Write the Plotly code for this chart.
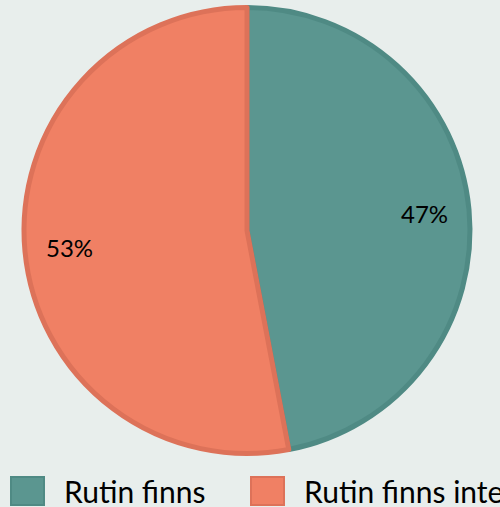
import math
import plotly.graph_objects as go

categories = ["Rutin finns", "Rutin finns inte"]
values = [47, 53]
fill_colors = ["#5B9690", "#F08064"]
line_colors = ["#4F8A84", "#DD7259"]
bg = "#E8EEEC"

W, H = 500, 507
cx, cy, r = 247, 230.5, 223  # pixels

fig = go.Figure()
fig.add_trace(go.Pie(
    labels=categories,
    values=values,
    sort=False,
    direction="clockwise",
    rotation=0,
    textinfo="none",
    hoverinfo="label+percent",
    marker=dict(colors=fill_colors, line=dict(color=line_colors, width=5)),
    domain=dict(x=[(cx - r) / W, (cx + r) / W], y=[1 - (cy + r) / H, 1 - (cy - r) / H]),
    showlegend=False,
))

# percentage labels at 0.8 radius on mid-angle of each slice
total = sum(values)
cum = 0
for v in values:
    mid = (cum + v / 2) / total * 2 * math.pi
    cum += v
    px = cx + 0.8 * r * math.sin(mid)
    py = cy - 0.8 * r * math.cos(mid)
    fig.add_annotation(
        x=px / W, y=1 - py / H, xref="paper", yref="paper",
        text=f"{round(v / total * 100)}%", showarrow=False,
        font=dict(family="Lato", size=24, color="#000000"),
        xanchor="center", yanchor="middle",
    )

# legend (manual, to match large swatches)
legend_x = [11, 251]
for i, name in enumerate(categories):
    x0 = legend_x[i]
    fig.add_shape(
        type="rect", xref="paper", yref="paper",
        x0=x0 / W, x1=(x0 + 33) / W, y0=1 - 505 / H, y1=1 - 477 / H,
        fillcolor=fill_colors[i], line=dict(color=line_colors[i], width=2),
    )
    fig.add_annotation(
        x=(x0 + 51) / W, y=1 - 491 / H, xref="paper", yref="paper",
        text=name, showarrow=False,
        font=dict(family="Lato", size=30, color="#000000"),
        xanchor="left", yanchor="middle",
    )

fig.update_layout(
    width=W, height=H,
    margin=dict(l=0, r=0, t=0, b=0),
    paper_bgcolor=bg, plot_bgcolor=bg,
)

fig.write_html(
    "out.html",
    config={"displayModeBar": False},
    post_script="document.body.style.margin='0';document.body.style.overflow='hidden';document.body.style.background='" + bg + "';",
)
